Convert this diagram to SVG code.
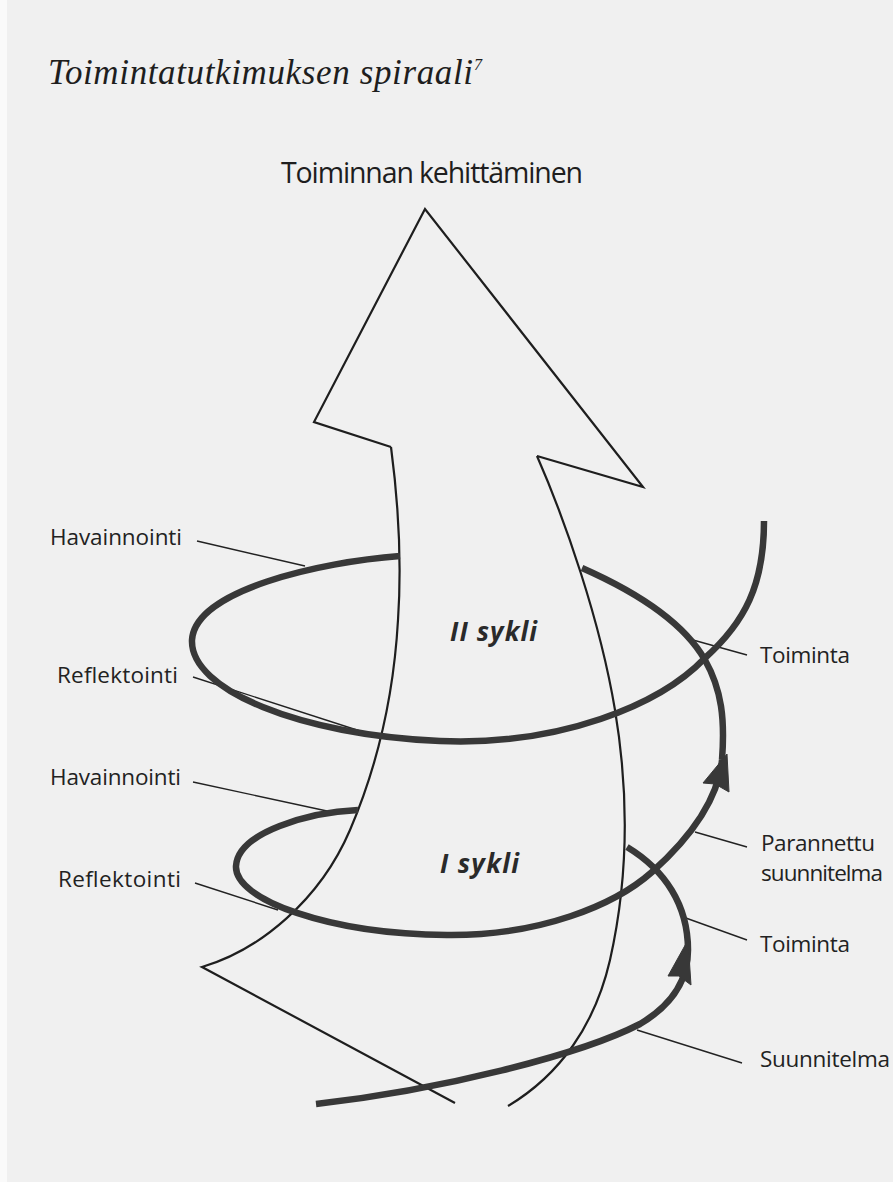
<svg xmlns="http://www.w3.org/2000/svg" width="893" height="1182" viewBox="0 0 893 1182">
<style>
.lbl{font-family:"Open Sans","Liberation Sans",sans-serif;font-size:22.5px;fill:#222}
.goal{font-family:"Open Sans","Liberation Sans",sans-serif;font-size:28.5px;fill:#1e1e1e}
.cyc{font-family:"Open Sans","Liberation Sans",sans-serif;font-size:26px;font-weight:bold;font-style:italic;fill:#2a2a2a}
.thin{fill:none;stroke:#222;stroke-width:1.4}
.shape{fill:none;stroke:#1e1e1e;stroke-width:2.2;stroke-linejoin:miter}
.spiral{fill:none;stroke:#383838;stroke-width:6.5;stroke-linecap:butt}
.head{fill:#383838;stroke:#383838;stroke-width:1}
</style>
<rect width="893" height="1182" fill="#f0f0f0"/>
<rect width="7" height="1182" fill="#fafafa"/>

<g id="title">
<text x="48" y="84" font-family="'Liberation Serif',serif" font-style="italic" font-size="35" fill="#1e1e1e" textLength="425">Toimintatutkimuksen spiraali</text>
<text x="474" y="70" font-family="'Liberation Serif',serif" font-style="italic" font-size="16" fill="#1e1e1e">7</text>
</g>

<g id="goal">
<text class="goal" x="281" y="183" textLength="302">Toiminnan kehittäminen</text>
</g>

<g id="arrow">
<path class="shape" d="M391,447 L314,422 L425,209 L643,487 L537,456"/>
<path class="shape" d="M391,447 C398,500 402,560 398,620 C394,690 380,760 350,830 C320,900 260,950 202,967 L455,1103"/>
<path class="shape" d="M537,456 C565,520 600,620 615,710 C630,800 628,880 610,960 C595,1025 560,1075 508,1106"/>
</g>

<g id="connectors">
<line class="thin" x1="197" y1="541" x2="305" y2="566"/>
<line class="thin" x1="193" y1="677" x2="360" y2="731"/>
<line class="thin" x1="193" y1="782" x2="327" y2="811"/>
<line class="thin" x1="195" y1="883" x2="278" y2="910"/>
<line class="thin" x1="693" y1="640" x2="747" y2="655"/>
<line class="thin" x1="695" y1="832" x2="747" y2="847"/>
<line class="thin" x1="683" y1="917" x2="747" y2="940"/>
<line class="thin" x1="637" y1="1030" x2="742" y2="1063"/>
</g>

<g id="spiral">
<path class="spiral" d="M316,1104 C440,1090 580,1055 640,1024 C672,1005 688,980 688,950 C688,905 665,870 627,847"/>
<path class="spiral" d="M358,810 C310,812 238,832 236,866 C234,900 330,934 447,935 C540,936 615,905 652,872 C690,838 718,800 722,760 C725,720 722,690 705,660 C688,630 650,598 582,568"/>
<path class="spiral" d="M400,556 C320,562 195,590 192,640 C190,690 300,735 440,741 C560,746 660,705 705,658 C745,622 764,585 764,521"/>
<polygon class="head" points="688,940 668,976 679,976 691,985"/>
<polygon class="head" points="727,754 703,783 715,784 729,792"/>
</g>

<g id="cycles">
<text class="cyc" x="450" y="641" textLength="87">II sykli</text>
<text class="cyc" x="440" y="873" textLength="79">I sykli</text>
</g>

<g id="labels-left">
<text class="lbl" x="50" y="545" textLength="132">Havainnointi</text>
<text class="lbl" x="57" y="683" textLength="121">Reflektointi</text>
<text class="lbl" x="50" y="785" textLength="131">Havainnointi</text>
<text class="lbl" x="58" y="887" textLength="123">Reflektointi</text>
</g>

<g id="labels-right">
<text class="lbl" x="760" y="663" textLength="90">Toiminta</text>
<text class="lbl" x="761" y="851" textLength="114">Parannettu</text>
<text class="lbl" x="761" y="881" textLength="122">suunnitelma</text>
<text class="lbl" x="760" y="952" textLength="90">Toiminta</text>
<text class="lbl" x="760" y="1067" textLength="130">Suunnitelma</text>
</g>
</svg>
